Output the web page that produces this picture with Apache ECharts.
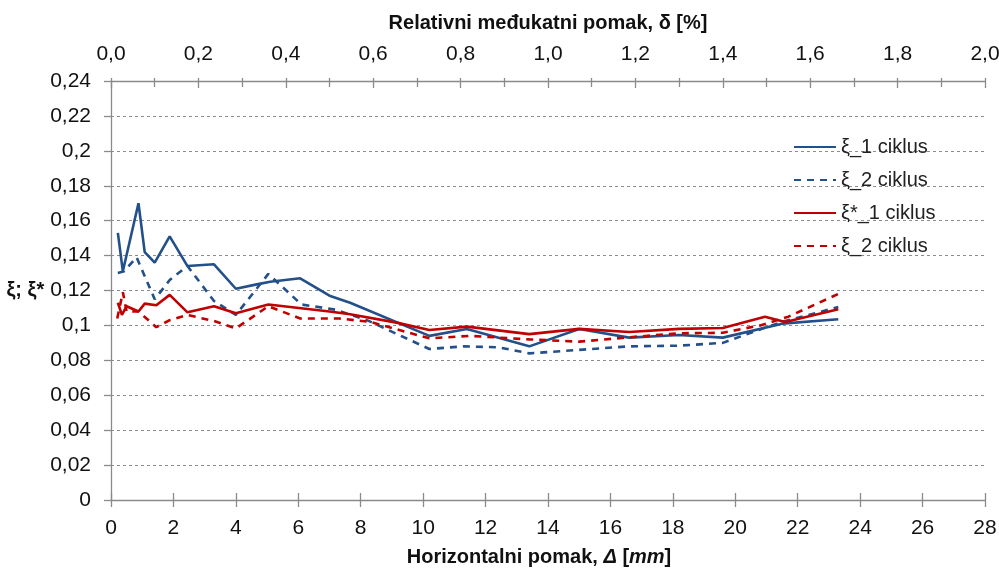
<!DOCTYPE html>
<html>
<head>
<meta charset="utf-8">
<script src="https://cdn.jsdelivr.net/npm/echarts@6/dist/echarts.min.js"></script>
<style>
  html, body { margin: 0; padding: 0; background: #fff; }
  #chart { width: 999px; height: 570px; }
</style>
</head>
<body>
<div id="chart"></div>
<script>
// Damping ratio vs. horizontal displacement [mm], pairs of [Δ, ξ]
const xi1Cycle = [
  [0.22, 0.153], [0.38, 0.131], [0.88, 0.170], [1.08, 0.142], [1.40, 0.136],
  [1.88, 0.151], [2.45, 0.134], [3.30, 0.135], [4.00, 0.121], [4.67, 0.1235],
  [5.10, 0.125], [6.06, 0.127], [7.00, 0.117], [7.66, 0.113], [10.2, 0.094],
  [11.4, 0.098], [13.4, 0.088], [15.0, 0.098], [16.6, 0.093], [18.2, 0.0945],
  [19.6, 0.093], [21.5, 0.101], [23.3, 0.1035]
];
const xi2Cycle = [
  [0.22, 0.130], [0.42, 0.131], [0.82, 0.139], [1.40, 0.115], [1.88, 0.126],
  [2.45, 0.134], [3.30, 0.114], [4.00, 0.106], [5.04, 0.1295], [6.10, 0.112],
  [7.20, 0.109], [8.20, 0.103], [10.2, 0.0865], [11.3, 0.088], [12.4, 0.0875],
  [13.4, 0.084], [15.0, 0.086], [16.6, 0.088], [18.2, 0.0884], [19.6, 0.090],
  [21.0, 0.099], [21.5, 0.102], [23.3, 0.1105]
];
const xiStar1Cycle = [
  [0.22, 0.113], [0.35, 0.106], [0.50, 0.111], [0.88, 0.108], [1.08, 0.1125],
  [1.45, 0.1115], [1.88, 0.1175], [2.45, 0.1075], [3.30, 0.111], [4.00, 0.107],
  [5.04, 0.112], [7.00, 0.108], [7.66, 0.1064], [9.15, 0.1016], [10.2, 0.0974],
  [11.4, 0.0993], [13.4, 0.095], [15.0, 0.098], [16.6, 0.0962], [18.2, 0.098],
  [19.6, 0.0985], [20.95, 0.105], [21.6, 0.102], [23.3, 0.1092]
];
const xiStar2Cycle = [
  [0.20, 0.104], [0.38, 0.119], [0.50, 0.108], [0.88, 0.108], [1.45, 0.099],
  [1.88, 0.103], [2.45, 0.106], [3.30, 0.1025], [4.00, 0.0983], [5.04, 0.111],
  [6.06, 0.104], [7.30, 0.104], [8.30, 0.102], [10.2, 0.0926], [11.5, 0.094],
  [13.4, 0.092], [15.0, 0.0907], [16.6, 0.0932], [18.2, 0.0955], [19.6, 0.0958],
  [20.8, 0.100], [21.7, 0.105], [23.3, 0.118]
];

// Series names and the text shown for each in the legend
const seriesNames = ['ξ_1 ciklus', 'ξ_2 ciklus', 'ξ*_1 ciklus', 'ξ*_2 ciklus'];
const legendText = {
  'ξ_1 ciklus': 'ξ_1 ciklus',
  'ξ_2 ciklus': 'ξ_2 ciklus',
  'ξ*_1 ciklus': 'ξ*_1 ciklus',
  'ξ*_2 ciklus': 'ξ_2 ciklus'
};

// Axis ranges
const dispMin = 0, dispMax = 28, dispStep = 2;        // Δ [mm]
const driftMin = 0, driftMax = 2.0, driftStep = 0.2;  // δ [%]
const xiMin = 0, xiMax = 0.24, xiStep = 0.02;

const FONT = "'Liberation Sans Narrow', 'Arial Narrow', 'Liberation Sans', Arial, sans-serif";
const BLUE = '#23508a';
const RED = '#c00000';
const AXIS_GREY = '#8a8a8a';
const TICK_FS = 21;

const comma = (v, d) => String(parseFloat(v.toFixed(d))).replace('.', ',');
const comma1 = v => v.toFixed(1).replace('.', ',');

const chart = echarts.init(document.getElementById('chart'), null, { renderer: 'canvas' });

function lineSeries(name, data, color, dashed) {
  return {
    name: name,
    type: 'line',
    xAxisIndex: 0,
    yAxisIndex: 0,
    data: data,
    symbol: 'none',
    smooth: false,
    lineStyle: { color: color, width: 2.6, type: dashed ? [7, 6] : 'solid' },
    itemStyle: { color: color },
    emphasis: { disabled: true }
  };
}

chart.setOption({
  animation: false,
  textStyle: { fontFamily: FONT },
  grid: { left: 111, right: 14, top: 81, bottom: 70, containLabel: false, outerBoundsMode: 'none' },
  legend: {
    orient: 'vertical',
    left: 793,
    top: 137,
    itemWidth: 42,
    itemHeight: 14,
    itemGap: 13,
    padding: 0,
    data: seriesNames,
    formatter: n => legendText[n],
    itemStyle: { opacity: 0 },
    textStyle: { fontFamily: FONT, fontSize: 20, color: '#222' }
  },
  xAxis: [
    {
      type: 'value', position: 'bottom', min: dispMin, max: dispMax, interval: dispStep,
      axisLine: { show: true, lineStyle: { color: AXIS_GREY, width: 1.3 } },
      axisTick: { show: true, length: 7, lineStyle: { color: AXIS_GREY, width: 1.3 } },
      axisLabel: { fontSize: TICK_FS, color: '#111', margin: 18, fontFamily: FONT },
      splitLine: { show: false },
      name: 'Horizontalni pomak, {i|Δ} [{i|mm}]',
      nameLocation: 'middle',
      nameGap: 47,
      nameTextStyle: {
        fontFamily: FONT, fontSize: 20, fontWeight: 'bold', color: '#111',
        padding: [0, 18, 0, 0],
        rich: { i: { fontFamily: FONT, fontSize: 20, fontWeight: 'bold', fontStyle: 'italic', color: '#111' } }
      }
    },
    {
      type: 'value', position: 'top', min: driftMin, max: driftMax, interval: driftStep,
      axisLine: { show: true, lineStyle: { color: AXIS_GREY, width: 1.3 } },
      axisTick: { show: true, length: 3, lineStyle: { color: AXIS_GREY, width: 1.3 } },
      minorTick: { show: true, splitNumber: 2, length: 3, lineStyle: { color: AXIS_GREY, width: 1.3 } },
      axisLabel: { fontSize: TICK_FS, color: '#111', margin: 16, fontFamily: FONT, formatter: comma1 },
      splitLine: { show: false },
      name: 'Relativni međukatni pomak, δ [%]',
      nameLocation: 'middle',
      nameGap: 48,
      nameTextStyle: { fontFamily: FONT, fontSize: 20, fontWeight: 'bold', color: '#111' }
    },
    // inner halves of the crossing tick marks
    {
      type: 'value', position: 'bottom', min: dispMin, max: dispMax, interval: dispStep,
      axisLine: { show: false },
      axisTick: { show: true, inside: true, length: 7, lineStyle: { color: AXIS_GREY, width: 1.3 } },
      axisLabel: { show: false },
      splitLine: { show: false }
    },
    {
      type: 'value', position: 'top', min: driftMin, max: driftMax, interval: driftStep,
      axisLine: { show: false },
      axisTick: { show: true, inside: true, length: 7, lineStyle: { color: AXIS_GREY, width: 1.3 } },
      minorTick: { show: true, splitNumber: 2, length: 6, lineStyle: { color: AXIS_GREY, width: 1.3 } },
      axisLabel: { show: false },
      splitLine: { show: false }
    }
  ],
  yAxis: {
    type: 'value', min: xiMin, max: xiMax, interval: xiStep,
    axisLine: { show: true, lineStyle: { color: AXIS_GREY, width: 1.3 } },
    axisTick: { show: true, length: 7, lineStyle: { color: AXIS_GREY, width: 1.3 } },
    axisLabel: { fontSize: TICK_FS, color: '#111', margin: 20, fontFamily: FONT, formatter: v => comma(v, 2) },
    splitLine: { show: true, lineStyle: { color: '#8c8c8c', width: 1, type: [3, 3] } },
    name: 'ξ; ξ*',
    nameLocation: 'middle',
    nameRotate: 0,
    nameGap: 64,
    nameTextStyle: { fontFamily: FONT, fontSize: 20, fontWeight: 'bold', color: '#111' }
  },
  series: [
    lineSeries(seriesNames[0], xi1Cycle, BLUE, false),
    lineSeries(seriesNames[1], xi2Cycle, BLUE, true),
    lineSeries(seriesNames[2], xiStar1Cycle, RED, false),
    lineSeries(seriesNames[3], xiStar2Cycle, RED, true)
  ]
});
</script>
</body>
</html>
